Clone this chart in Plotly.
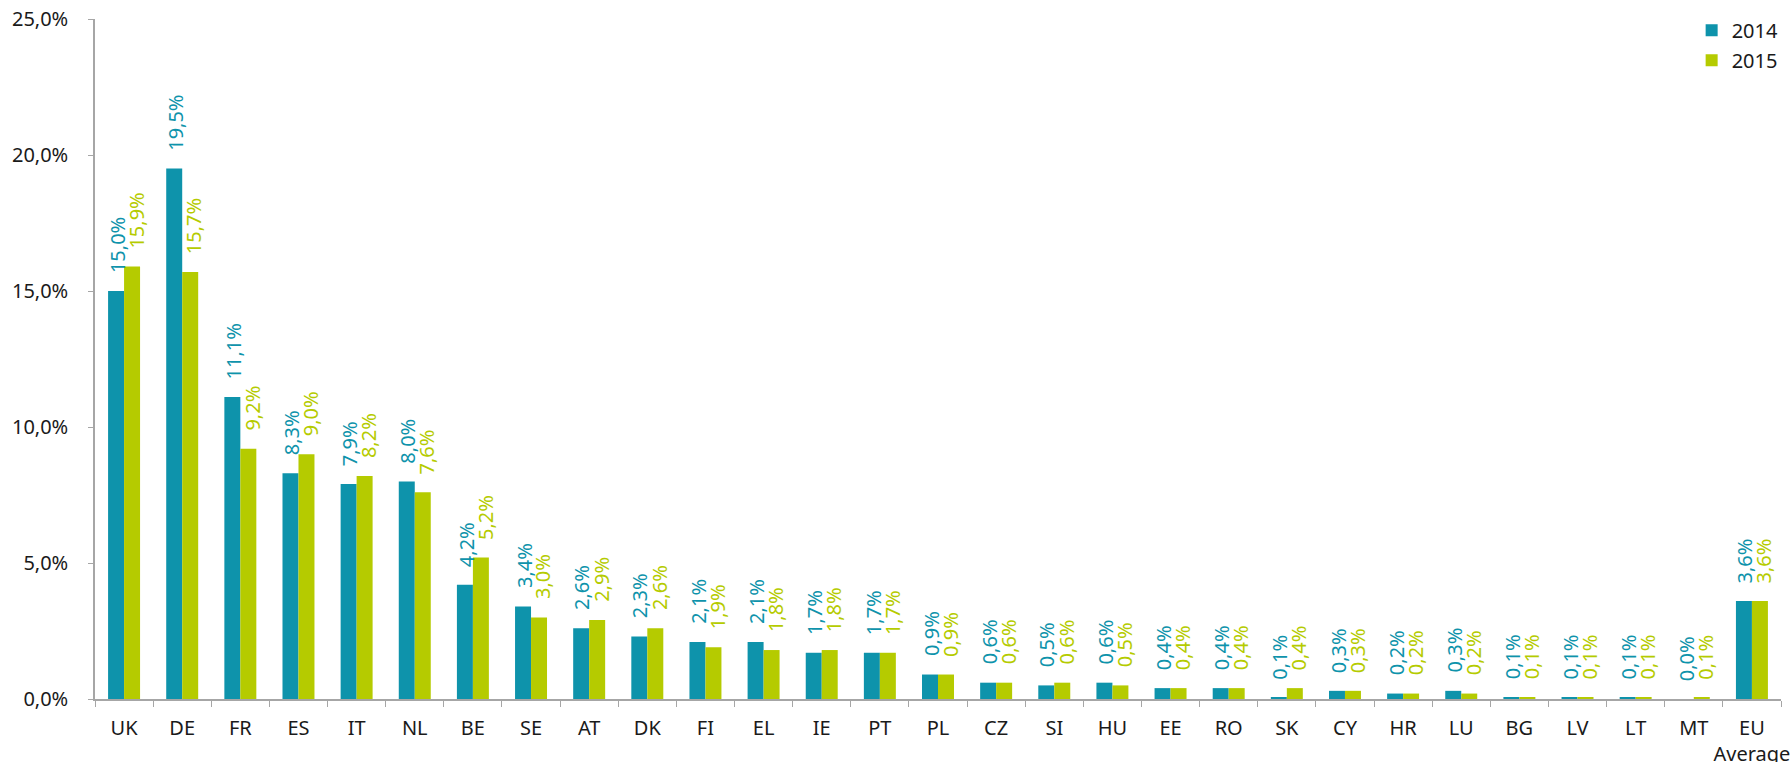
import plotly.graph_objects as go

countries = ["UK", "DE", "FR", "ES", "IT", "NL", "BE", "SE", "AT", "DK", "FI", "EL", "IE", "PT",
             "PL", "CZ", "SI", "HU", "EE", "RO", "SK", "CY", "HR", "LU", "BG", "LV", "LT", "MT",
             "EU<br>Average"]
values_2014 = [15.0, 19.5, 11.1, 8.3, 7.9, 8.0, 4.2, 3.4, 2.6, 2.3, 2.1, 2.1, 1.7, 1.7,
               0.9, 0.6, 0.5, 0.6, 0.4, 0.4, 0.06, 0.3, 0.2, 0.3, 0.06, 0.06, 0.06, 0.0, 3.6]
values_2015 = [15.9, 15.7, 9.2, 9.0, 8.2, 7.6, 5.2, 3.0, 2.9, 2.6, 1.9, 1.8, 1.8, 1.7,
               0.9, 0.6, 0.6, 0.5, 0.4, 0.4, 0.4, 0.3, 0.2, 0.2, 0.06, 0.06, 0.06, 0.06, 3.6]
series_names = ["2014", "2015"]
y_ticks = [0, 5, 10, 15, 20, 25]

C_BLUE = "#0E93AB"
C_GREEN = "#B5CB00"
FONT = "Noto Sans"
AXIS_GREY = "#A6A6A6"


def fmt(v):
    return f"{v:.1f}".replace(".", ",") + "%"


fig = go.Figure()
for name, vals, col in [(series_names[0], values_2014, C_BLUE), (series_names[1], values_2015, C_GREEN)]:
    fig.add_trace(go.Bar(x=countries, y=vals, name=name, legendgroup=name,
                         marker=dict(color=col, line=dict(width=0))))

bargap = 0.45
half = (1 - bargap) / 4.0
annotations = []
for i in range(len(countries)):
    for vals, col, off, xs in [(values_2014, C_BLUE, -half, 1), (values_2015, C_GREEN, half, 4)]:
        annotations.append(dict(
            x=i + off, y=vals[i], xref="x", yref="y",
            text=fmt(vals[i]), textangle=-90, showarrow=False,
            xanchor="center", yanchor="bottom", yshift=16, xshift=xs,
            font=dict(family=FONT, size=20, color=col),
        ))

fig.update_layout(
    width=1791, height=762,
    margin=dict(l=95, r=7, t=19, b=63),
    plot_bgcolor="white", paper_bgcolor="white",
    barmode="group", bargap=bargap, bargroupgap=0,
    font=dict(family=FONT, size=20, color="#1a1a1a"),
    annotations=annotations,
    showlegend=True,
    legend=dict(x=0.947, y=1.012, xanchor="left", yanchor="top", xref="paper",
                font=dict(family=FONT, size=20, color="#1a1a1a"),
                bgcolor="rgba(0,0,0,0)", traceorder="grouped", tracegroupgap=1),
)
fig.update_xaxes(
    type="category", showgrid=False, showline=True, linecolor=AXIS_GREY, linewidth=1.5,
    ticks="outside", tickson="boundaries", ticklen=6, tickcolor=AXIS_GREY, tickwidth=1,
    tickfont=dict(family=FONT, size=20, color="#1a1a1a"), ticklabelstandoff=10,
    range=[-0.5, len(countries) - 0.5], tickangle=0, automargin=False,
)
fig.update_yaxes(
    range=[0, 25], tickvals=y_ticks, ticktext=[fmt(v) for v in y_ticks],
    showgrid=False, zeroline=False, showline=True, linecolor=AXIS_GREY, linewidth=1.5,
    ticks="outside", ticklen=5, tickcolor=AXIS_GREY, tickwidth=1,
    tickfont=dict(family=FONT, size=20, color="#1a1a1a"), ticklabelstandoff=16,
    automargin=False,
)

fig.write_html(
    "out.html",
    config={"displayModeBar": False},
    post_script="document.body.style.margin='0';document.body.style.padding='0';"
                "document.documentElement.style.overflow='hidden';",
)
